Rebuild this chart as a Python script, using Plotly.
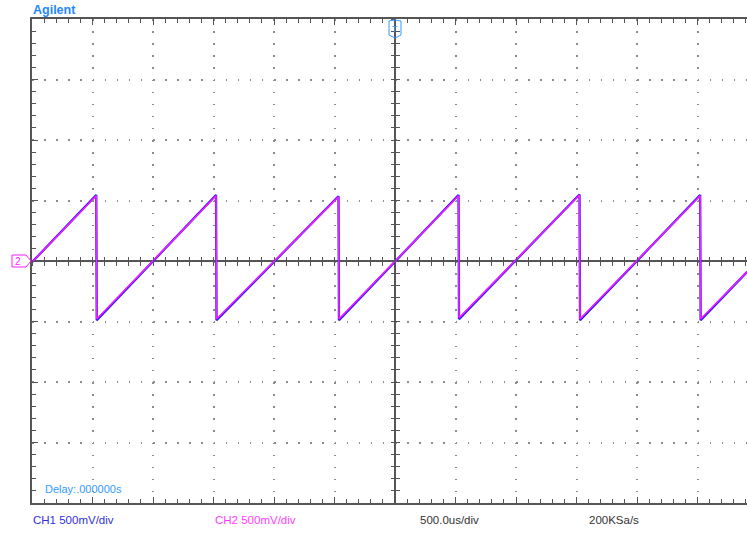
import plotly.graph_objects as go

# ---- data (time in ms, 500 us/div ; voltage in V, 500 mV/div) ----
ch1_t = [-3.0, -2.469, -2.465, -1.479, -1.475, -0.467, -0.463, 0.525, 0.529, 1.525, 1.529, 2.522, 2.526, 2.91]
ch1_v = [-0.01, 0.545, -0.49, 0.545, -0.49, 0.535, -0.49, 0.545, -0.48, 0.55, -0.49, 0.545, -0.49, -0.09]
ch2_t = [-3.0, -2.469, -2.465, -1.479, -1.475, -0.467, -0.463, 0.525, 0.529, 1.525, 1.529, 2.522, 2.526, 2.91]
ch2_v = [-0.01, 0.54, -0.48, 0.54, -0.48, 0.53, -0.48, 0.54, -0.47, 0.545, -0.48, 0.54, -0.48, -0.09]

bottom_labels = ["CH1 500mV/div", "CH2 500mV/div", "500.0us/div", "200KSa/s"]
bottom_colors = ["#2f2fd8", "#ff3cff", "#333333", "#333333"]
bottom_px = [32, 214, 419, 588]

W, H = 747, 533
L, R, T, B = 32, 0, 19, 30
PW, PH = W - L - R, H - T - B
DIV_PX = PH / 8.0
T_DIV = 0.5   # ms per div
V_DIV = 0.5   # V per div
x0 = -6 * T_DIV
x1 = x0 + PW / DIV_PX * T_DIV
y0, y1 = -4 * V_DIV, 4 * V_DIV

def px2paper_x(px):
    return (px - L) / PW

def py2paper_y(py):
    return (H - B - py) / PH

fig = go.Figure()
fig.add_trace(go.Scatter(x=ch1_t, y=ch1_v, mode="lines", line=dict(color="#1a1aff", width=2.3),
                         hoverinfo="skip", showlegend=False))
fig.add_trace(go.Scatter(x=ch2_t, y=ch2_v, mode="lines", line=dict(color="#ff1aff", width=1.5),
                         hoverinfo="skip", showlegend=False))
# empty traces to register the centre-tick axes
for xa, ya in [("x2", "y"), ("x3", "y"), ("x", "y2"), ("x", "y3")]:
    fig.add_trace(go.Scatter(x=[], y=[], xaxis=xa, yaxis=ya, showlegend=False, hoverinfo="skip"))

axcol = "#555555"
grid = dict(showgrid=True, gridcolor="#8c8c8c", gridwidth=1.5, griddash="1.5px,10.6px")

fig.update_layout(
    width=W, height=H, margin=dict(l=L, r=R, t=T, b=B),
    paper_bgcolor="white", plot_bgcolor="white",
    xaxis=dict(range=[x0, x1], tick0=0, dtick=T_DIV, **grid,
               zeroline=True, zerolinecolor=axcol, zerolinewidth=1.5,
               showline=True, linecolor=axcol, linewidth=2, mirror="ticks",
               ticks="inside", ticklen=6, tickcolor=axcol, tickwidth=1,
               minor=dict(ticks="inside", ticklen=4, tick0=0, dtick=T_DIV / 5, tickcolor=axcol, showgrid=False),
               showticklabels=False, fixedrange=True),
    yaxis=dict(range=[y0, y1], tick0=0, dtick=V_DIV, **grid,
               zeroline=True, zerolinecolor=axcol, zerolinewidth=1.5,
               showline=True, linecolor=axcol, linewidth=2, mirror=False,
               ticks="inside", ticklen=6, tickcolor=axcol, tickwidth=1,
               minor=dict(ticks="inside", ticklen=4, tick0=0, dtick=V_DIV / 5, tickcolor=axcol, showgrid=False),
               showticklabels=False, fixedrange=True),
)
cx = dict(range=[x0, x1], tick0=0, dtick=T_DIV / 5, overlaying="x", anchor="free", position=0.5,
          showgrid=False, zeroline=False, showline=False, ticklen=4, tickcolor=axcol, tickwidth=1,
          showticklabels=False, fixedrange=True)
cy = dict(range=[y0, y1], tick0=0, dtick=V_DIV / 5, overlaying="y", anchor="free",
          position=(0 - x0) / (x1 - x0),
          showgrid=False, zeroline=False, showline=False, ticklen=4, tickcolor=axcol, tickwidth=1,
          showticklabels=False, fixedrange=True)
fig.update_layout(xaxis2=dict(cx, ticks="inside"), xaxis3=dict(cx, ticks="outside"),
                  yaxis2=dict(cy, ticks="inside"), yaxis3=dict(cy, ticks="outside"))

font = "Liberation Sans, Arial, sans-serif"
ann = []
ann.append(dict(text="<b>Agilent</b>", xref="paper", yref="paper", x=px2paper_x(31), y=py2paper_y(10),
                xanchor="left", yanchor="middle", showarrow=False,
                font=dict(family=font, size=12.5, color="#1f87ff")))
ann.append(dict(text="Delay:.000000s", xref="paper", yref="paper", x=px2paper_x(43), y=py2paper_y(489),
                xanchor="left", yanchor="middle", showarrow=False,
                font=dict(family=font, size=11, color="#3399ff")))
for lab, col, px in zip(bottom_labels, bottom_colors, bottom_px):
    ann.append(dict(text=lab, xref="paper", yref="paper", x=px2paper_x(px - 1), y=py2paper_y(520),
                    xanchor="left", yanchor="middle", showarrow=False,
                    font=dict(family=font, size=11.5, color=col)))

zero_x_paper = (0 - x0) / (x1 - x0)
zero_y_paper = (0 - y0) / (y1 - y0)
# channel ground marker
ann.append(dict(text="2", xref="paper", yref="paper", x=0, y=zero_y_paper, xshift=-14, xanchor="center",
                yanchor="middle", showarrow=False, font=dict(family=font, size=10, color="#ff1aff")))
# trigger marker
ann.append(dict(text="T", xref="paper", yref="paper", x=zero_x_paper, y=1, yshift=-10, xanchor="center",
                yanchor="middle", showarrow=False, font=dict(family=font, size=9, color="#3399ff")))
fig.update_layout(annotations=ann)

fig.add_shape(type="path", xref="paper", yref="paper", xsizemode="pixel", ysizemode="pixel",
              xanchor=0, yanchor=zero_y_paper, path="M-20,-6 L-6,-6 L-1,0 L-6,6 L-20,6 Z",
              line=dict(color="#ff1aff", width=1), fillcolor="rgba(0,0,0,0)")
fig.add_shape(type="path", xref="paper", yref="paper", xsizemode="pixel", ysizemode="pixel",
              xanchor=zero_x_paper, yanchor=1, path="M-6,-2 L0,-1 L6,-2 L6,-16 L0,-19 L-6,-16 Z",
              line=dict(color="#3399ff", width=1), fillcolor="rgba(0,0,0,0)")

fig.write_html("out.html")
